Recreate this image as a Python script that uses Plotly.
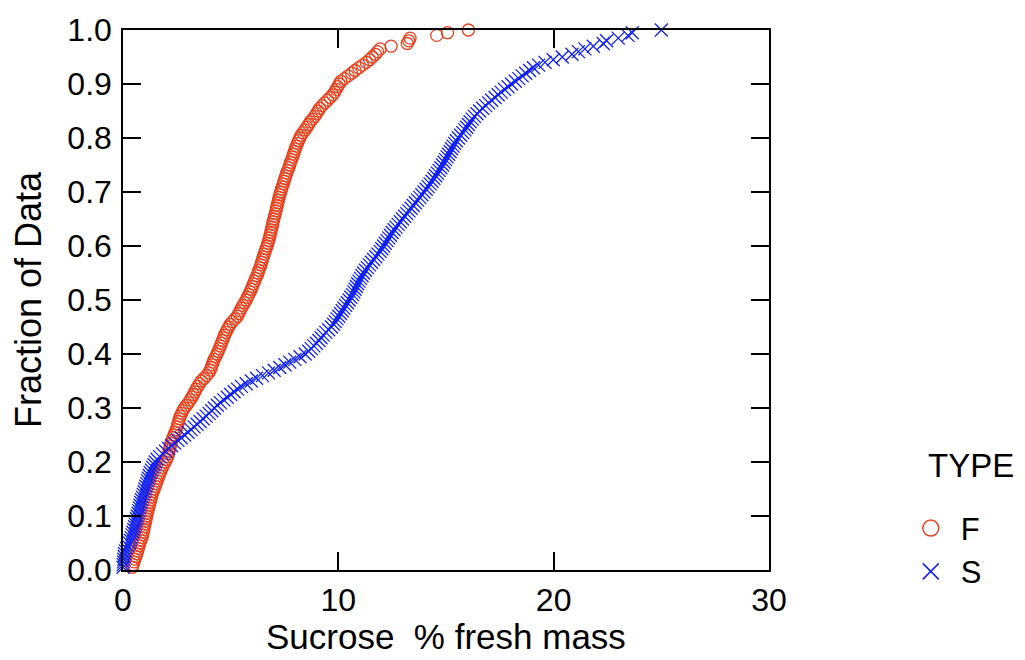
import numpy as np
import plotly.graph_objects as go

# sucrose (% fresh mass), one value per sample, by TYPE
sucrose_f = [
    0.43, 0.47, 0.51, 0.55, 0.60, 0.64, 0.68, 0.71, 0.75, 0.78,
    0.83, 0.88, 0.91, 0.94, 0.97, 0.99, 1.02, 1.05, 1.07, 1.10,
    1.13, 1.16, 1.19, 1.22, 1.26, 1.29, 1.32, 1.35, 1.40, 1.45,
    1.50, 1.54, 1.58, 1.63, 1.68, 1.73, 1.78, 1.83, 1.89, 1.96,
    2.03, 2.08, 2.11, 2.14, 2.17, 2.20, 2.23, 2.27, 2.32, 2.37,
    2.42, 2.47, 2.51, 2.55, 2.58, 2.62, 2.66, 2.72, 2.78, 2.85,
    2.95, 3.04, 3.12, 3.20, 3.27, 3.34, 3.40, 3.47, 3.55, 3.64,
    3.76, 3.88, 3.98, 4.05, 4.10, 4.14, 4.19, 4.23, 4.30, 4.36,
    4.42, 4.47, 4.52, 4.57, 4.62, 4.67, 4.72, 4.78, 4.84, 4.91,
    4.98, 5.08, 5.20, 5.31, 5.38, 5.44, 5.50, 5.57, 5.64, 5.72,
    5.78, 5.84, 5.90, 5.96, 6.01, 6.06, 6.11, 6.16, 6.22, 6.27,
    6.31, 6.36, 6.40, 6.44, 6.48, 6.52, 6.56, 6.60, 6.64, 6.69,
    6.73, 6.76, 6.80, 6.83, 6.86, 6.89, 6.92, 6.95, 6.97, 7.00,
    7.04, 7.07, 7.10, 7.13, 7.16, 7.19, 7.22, 7.25, 7.28, 7.32,
    7.36, 7.40, 7.44, 7.48, 7.52, 7.56, 7.60, 7.65, 7.70, 7.74,
    7.78, 7.83, 7.87, 7.92, 7.96, 8.00, 8.05, 8.10, 8.15, 8.21,
    8.27, 8.36, 8.45, 8.54, 8.62, 8.70, 8.80, 8.90, 8.98, 9.06,
    9.14, 9.25, 9.37, 9.50, 9.62, 9.74, 9.83, 9.90, 9.97, 10.04,
    10.12, 10.28, 10.45, 10.62, 10.78, 10.95, 11.12, 11.30, 11.45, 11.58,
    11.72, 11.82, 11.94, 12.45, 13.20, 13.27, 13.33, 14.57, 15.07, 16.04,
]

sucrose_s = [
    0.00, 0.01, 0.02, 0.04, 0.06, 0.08, 0.11, 0.16, 0.22, 0.30,
    0.34, 0.38, 0.42, 0.46, 0.50, 0.54, 0.57, 0.60, 0.63, 0.66,
    0.70, 0.73, 0.76, 0.79, 0.82, 0.86, 0.90, 0.94, 0.98, 1.02,
    1.06, 1.10, 1.14, 1.18, 1.22, 1.27, 1.32, 1.38, 1.44, 1.50,
    1.58, 1.70, 1.84, 1.98, 2.12, 2.26, 2.40, 2.55, 2.70, 2.86,
    3.02, 3.16, 3.30, 3.44, 3.58, 3.72, 3.86, 4.00, 4.12, 4.24,
    4.38, 4.52, 4.68, 4.84, 5.00, 5.16, 5.32, 5.50, 5.72, 5.96,
    6.20, 6.48, 6.76, 7.02, 7.28, 7.52, 7.74, 7.98, 8.22, 8.46,
    8.62, 8.74, 8.86, 8.98, 9.10, 9.20, 9.30, 9.42, 9.55, 9.68,
    9.78, 9.86, 9.94, 10.02, 10.10, 10.18, 10.26, 10.34, 10.42, 10.50,
    10.58, 10.66, 10.72, 10.78, 10.84, 10.90, 10.96, 11.03, 11.10, 11.17,
    11.26, 11.35, 11.44, 11.54, 11.64, 11.74, 11.84, 11.94, 12.02, 12.10,
    12.18, 12.26, 12.34, 12.42, 12.50, 12.59, 12.68, 12.78, 12.88, 12.98,
    13.08, 13.18, 13.28, 13.38, 13.48, 13.58, 13.68, 13.78, 13.88, 13.98,
    14.08, 14.17, 14.26, 14.35, 14.44, 14.52, 14.60, 14.68, 14.76, 14.84,
    14.91, 14.98, 15.05, 15.12, 15.19, 15.26, 15.33, 15.40, 15.48, 15.58,
    15.68, 15.78, 15.88, 15.96, 16.04, 16.12, 16.22, 16.32, 16.44, 16.56,
    16.70, 16.84, 16.98, 17.12, 17.28, 17.42, 17.56, 17.72, 17.88, 18.04,
    18.22, 18.38, 18.54, 18.70, 18.88, 19.06, 19.30, 19.60, 19.98, 20.40,
    20.85, 21.15, 21.45, 21.84, 22.30, 22.46, 23.00, 23.45, 23.65, 25.00,
]

types = ["F", "S"]
x_ticks = [0, 10, 20, 30]
y_ticks = [0.0, 0.1, 0.2, 0.3, 0.4, 0.5, 0.6, 0.7, 0.8, 0.9, 1.0]

FONT = "Liberation Sans, Arial, sans-serif"
styles = {
    "F": dict(symbol="circle-open", color="#E8401C", size=12, legend_size=16),
    "S": dict(symbol="x-thin-open", color="#1020F0", size=13, legend_size=17),
}


def ecdf(values):
    v = np.sort(np.asarray(values, dtype=float))
    return v, np.arange(1, len(v) + 1) / len(v)


fig = go.Figure()

for name, vals in zip(types, [sucrose_f, sucrose_s]):
    xs, fr = ecdf(vals)
    st = styles[name]
    fig.add_trace(go.Scatter(
        x=xs, y=fr, mode="markers", name=name, cliponaxis=False,
        showlegend=False,
        marker=dict(symbol=st["symbol"], size=st["size"], color=st["color"],
                    line=dict(color=st["color"], width=1.3)),
    ))
    # legend-only entry, so the key symbol can be drawn a bit larger
    fig.add_trace(go.Scatter(
        x=[None], y=[None], mode="markers", name=name,
        marker=dict(symbol=st["symbol"], size=st["legend_size"], color=st["color"],
                    line=dict(color=st["color"], width=1.5)),
    ))

axis_common = dict(
    showgrid=False, zeroline=False, automargin=False,
    showline=True, linecolor="black", linewidth=1.5, mirror="ticks",
    ticks="inside", ticklen=18, tickwidth=1.5, tickcolor="black",
    tickfont=dict(family=FONT, size=32, color="black"),
)

fig.update_xaxes(range=[0, 30], tickvals=x_ticks, ticklabelstandoff=1, **axis_common)
fig.update_yaxes(
    range=[0, 1], tickvals=y_ticks, tickformat=".1f", ticklabelstandoff=3,
    title=dict(text="Fraction of Data",
               font=dict(family=FONT, size=36, color="black"), standoff=15),
    **axis_common,
)

# the page adds an 8px body margin, so the figure is sized and offset for it
fig.update_layout(
    width=1009, height=652,
    margin=dict(l=115, r=248, t=22, b=90),
    paper_bgcolor="white", plot_bgcolor="white",
    font=dict(family=FONT, color="black"),
    legend=dict(
        font=dict(family=FONT, size=31),
        x=1.204, y=0.127, xanchor="left", yanchor="top",
        itemwidth=50, tracegroupgap=0, bgcolor="rgba(0,0,0,0)",
    ),
    annotations=[
        dict(text="Sucrose\u00a0\u00a0% fresh mass", xref="paper", yref="paper",
             x=0.5, y=-0.123, xanchor="center", yanchor="middle", showarrow=False,
             font=dict(family=FONT, size=35, color="black")),
        dict(text="TYPE", xref="paper", yref="paper", x=1.243, y=0.193,
             xanchor="left", yanchor="middle", showarrow=False,
             font=dict(family=FONT, size=33, color="black")),
    ],
)

fig.write_html("out.html")
